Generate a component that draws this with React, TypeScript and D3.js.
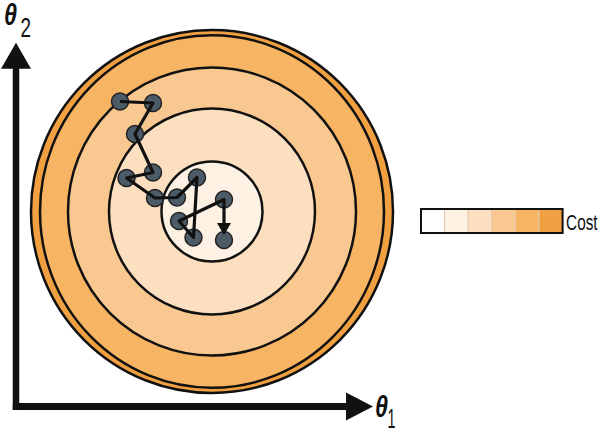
import React, { useRef, useEffect } from 'react';
import * as d3 from 'd3';

// contour ellipses of the cost surface (outer -> inner), in parameter units
const contourRx = [18.1, 17.2, 14.4, 10.3, 5.05];
const contourRy = [18.15, 17.63, 14.4, 10.3, 5.0];
const bandColors = ['#F0A040', '#F7B462', '#F9C890', '#FBDFBF', '#FDF1E4'];

// gradient descent steps
const theta1 = [-9.2, -5.9, -7.7, -5.9, -8.55, -5.7, -3.5, -1.5, -1.85, -3.3, 1.2, 1.2];
const theta2 = [11.0, 10.85, 7.75, 3.9, 3.35, 1.35, 1.4, 3.4, -2.6, -0.95, 1.2, -2.85];

const legendColors = ['#FFFFFF', '#FDF1E4', '#FBDFBF', '#F9C890', '#F7B462', '#F0A040'];
const legendLabel = 'Cost';

const W = 600;
const H = 441;
const FONT = '"Liberation Sans", Arial, sans-serif';

export default function App() {
  const svgEl = useRef<SVGSVGElement>(null);

  useEffect(() => {
    const svg = d3.select(svgEl.current);
    svg.selectAll('*').remove();

    const x = d3.scaleLinear().domain([-19.6, 16.1]).range([16, 373]);
    const y = d3.scaleLinear().domain([-19.5, 16.88]).range([406.5, 42.7]);
    const kx = x(1) - x(0);
    const ky = y(0) - y(1);

    // cost contours
    svg
      .append('g')
      .selectAll('ellipse')
      .data(contourRx)
      .join('ellipse')
      .attr('cx', x(0))
      .attr('cy', y(0))
      .attr('rx', (d) => d * kx)
      .attr('ry', (d, i) => contourRy[i] * ky)
      .attr('fill', (d, i) => bandColors[i])
      .attr('stroke', '#111')
      .attr('stroke-width', 2.5);

    // axes
    const axes = svg.append('g').attr('fill', '#111').attr('stroke', '#111');
    axes
      .append('line')
      .attr('x1', x(-19.6) - 3.2)
      .attr('y1', y(-19.5))
      .attr('x2', x(16.1) - 24)
      .attr('y2', y(-19.5))
      .attr('stroke-width', 7);
    axes
      .append('line')
      .attr('x1', x(-19.6))
      .attr('y1', y(-19.5) + 3.5)
      .attr('x2', x(-19.6))
      .attr('y2', y(16.88) + 23)
      .attr('stroke-width', 6.5);
    axes
      .append('path')
      .attr('stroke', 'none')
      .attr('d', `M${x(16.1)},${y(-19.5)} L${x(16.1) - 27},${y(-19.5) - 14} L${x(16.1) - 27},${y(-19.5) + 14} Z`);
    axes
      .append('path')
      .attr('stroke', 'none')
      .attr('d', `M${x(-19.6)},${y(16.88)} L${x(-19.6) - 15},${y(16.88) + 26} L${x(-19.6) + 15},${y(16.88) + 26} Z`);

    // axis labels: theta with subscript
    const lab = svg.append('g').attr('font-family', FONT).attr('fill', '#111');
    const addLabel = (tx: number, ty: number, sub: string, sx: number, sy: number, sw: number) => {
      lab
        .append('text')
        .attr('x', tx)
        .attr('y', ty)
        .attr('font-size', 29)
        .attr('font-style', 'italic')
        .attr('font-weight', 'bold')
        .attr('textLength', 13)
        .attr('lengthAdjust', 'spacingAndGlyphs')
        .text('θ');
      lab
        .append('text')
        .attr('x', sx)
        .attr('y', sy)
        .attr('font-size', 28)
        .attr('textLength', sw)
        .attr('lengthAdjust', 'spacingAndGlyphs')
        .text(sub);
    };
    addLabel(375, 416.5, '1', 387.5, 427.5, 8);
    addLabel(4, 24.5, '2', 20.5, 37, 10.5);

    // descent path
    const pts: [number, number][] = theta1.map((d, i) => [x(d), y(theta2[i])]);
    svg
      .append('g')
      .selectAll('circle')
      .data(pts)
      .join('circle')
      .attr('cx', (d) => d[0])
      .attr('cy', (d) => d[1])
      .attr('r', 8.5)
      .attr('fill', '#4B5B67')
      .attr('stroke', '#222')
      .attr('stroke-width', 1.5);

    const last = pts[pts.length - 1];
    const tipY = last[1] - 5;
    const linePts = pts.slice(0, -1).concat([[last[0], tipY - 10]]);
    svg
      .append('path')
      .datum(linePts)
      .attr('fill', 'none')
      .attr('stroke', '#111')
      .attr('stroke-width', 3.2)
      .attr('stroke-linejoin', 'round')
      .attr('d', d3.line());
    svg
      .append('path')
      .attr('fill', '#111')
      .attr('d', `M${last[0]},${tipY} L${last[0] - 7},${tipY - 12} L${last[0] + 7},${tipY - 12} Z`);

    // legend
    const lx = 421;
    const ly = 209;
    const cw = 23.6;
    const ch = 24;
    const leg = svg.append('g');
    leg
      .selectAll('rect.cell')
      .data(legendColors)
      .join('rect')
      .attr('class', 'cell')
      .attr('x', (d, i) => lx + i * cw)
      .attr('y', ly)
      .attr('width', cw)
      .attr('height', ch)
      .attr('fill', (d) => d)
      .attr('stroke', '#E8C9A8')
      .attr('stroke-width', 1);
    leg
      .append('rect')
      .attr('x', lx)
      .attr('y', ly)
      .attr('width', cw * legendColors.length)
      .attr('height', ch)
      .attr('fill', 'none')
      .attr('stroke', '#111')
      .attr('stroke-width', 2);
    leg
      .append('text')
      .attr('x', lx + cw * legendColors.length + 3.5)
      .attr('y', ly + 20.5)
      .attr('font-family', FONT)
      .attr('font-size', 22)
      .attr('textLength', 31.5)
      .attr('lengthAdjust', 'spacingAndGlyphs')
      .attr('fill', '#111')
      .text(legendLabel);
  }, []);

  return (
    <svg
      ref={svgEl}
      width={W}
      height={H}
      style={{ position: 'absolute', left: 0, top: 0, background: '#fff' }}
    ></svg>
  );
}
